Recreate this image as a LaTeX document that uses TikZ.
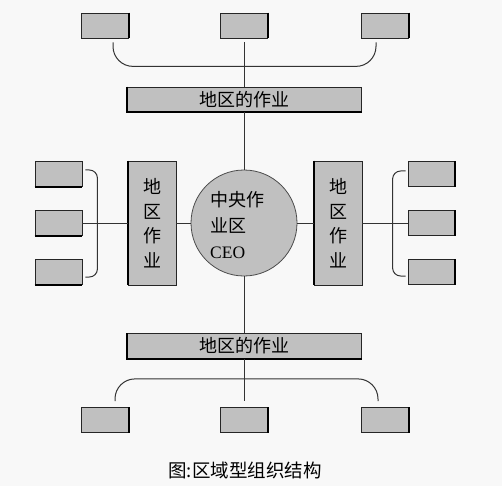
\documentclass[tikz,border=0pt]{standalone}
\usepackage{fontspec}
\setmainfont{Noto Sans CJK SC}
\newfontfamily\ceofont{Liberation Serif}
\usepackage{xcolor}
\usepackage{tikz}
\definecolor{boxgray}{HTML}{C0C0C0}
\definecolor{paper}{HTML}{F8F8F8}

\begin{document}
\begin{tikzpicture}[x=1pt,y=-1pt,
		small/.style={draw=black!85, fill=boxgray, line width=0.8pt, minimum width=47pt, minimum height=25pt, inner sep=0pt},
		region/.style={draw=black!85, fill=boxgray, line width=0.8pt, minimum width=234pt, minimum height=25pt, inner sep=0pt, font=\fontsize{18}{20}\selectfont},
		column/.style={draw=black!85, fill=boxgray, line width=0.8pt, minimum width=48pt, minimum height=124pt, inner sep=0pt, align=center, font=\fontsize{18}{24.5}\selectfont},
		link/.style={draw=black!80, line width=1pt},
		edge/.style={draw=black, line width=2pt}]
		\fill[paper] (0,0) rectangle (502,486);
		\useasboundingbox (0,0) rectangle (502,486);

		\node[small] (t1) at (105,25.5) {};
		\node[small] (t2) at (244,25.5) {};
		\node[small] (t3) at (385,25.5) {};
		\node[region] (tbar) at (244.5,99.5) {地区的作业};

		\node[small] (l1) at (58.5,174) {};
		\node[small] (l2) at (58.5,223) {};
		\node[small] (l3) at (58.5,272) {};
		\node[column] (lbar) at (152,223) {地\\区\\作\\业};

		\node[shape=circle, draw=black!70, fill=boxgray, line width=0.8pt, minimum size=106pt] (ceo) at (244,223) {};
		\node[align=left, anchor=west, inner sep=0pt, font=\fontsize{18}{26}\selectfont] (ceotext) at (210,225) {中央作\\业区\\{\ceofont\fontsize{17.5}{20}\selectfont CEO}};

		\node[column] (rbar) at (338,223) {地\\区\\作\\业};
		\node[small] (r1) at (431.5,174) {};
		\node[small] (r2) at (431.5,223) {};
		\node[small] (r3) at (431.5,272) {};

		\node[region] (bbar) at (244.5,346) {地区的作业};
		\node[small] (b1) at (105,420) {};
		\node[small] (b2) at (244,420) {};
		\node[small] (b3) at (385,420) {};

		\node[font=\fontsize{18.5}{20}\selectfont] (caption) at (245,470) {图:区域型组织结构};

		% darker edges of the boxes
		\foreach \n in {t1,t2,t3,b1,b2,b3,r1,r2,r3}
			\draw[edge] (\n.north east) -- (\n.south east);
		\foreach \n in {l1,l2,l3}
			\draw[edge] (\n.south west) -- (\n.south east);
		\foreach \n in {tbar,bbar}
			\draw[edge] (\n.north west) -- (\n.south west) -- (\n.south east);
		\foreach \n in {lbar,rbar}
			\draw[edge] (\n.north west) -- (\n.south west);

		\draw[link, rounded corners=20pt] ([xshift=8pt,yshift=-4pt]t1.south) |- ([yshift=-28pt]t2.south) -| ([xshift=-9pt,yshift=-4pt]t3.south);
		\draw[link] ([yshift=-4pt]t2.south) -- (tbar.north -| t2.south);
		\draw[link] (tbar.south -| ceo.north) -- (ceo.north);

		\draw[link, rounded corners=8pt] ([xshift=3pt,yshift=4pt]l1.east) -| ([xshift=15pt]l2.east) |- ([xshift=3pt,yshift=-5pt]l3.east);
		\draw[link] (l2.east) -- (lbar.west);
		\draw[link] (lbar.east) -- (ceo.west);
		\draw[link] (ceo.east) -- (rbar.west);
		\draw[link] (rbar.east) -- (r2.west);
		\draw[link, rounded corners=8pt] ([xshift=-2pt,yshift=3pt]r1.west) -| ([xshift=-15pt]r2.west) |- ([xshift=-2pt,yshift=-4pt]r3.west);

		\draw[link] (ceo.south) -- (bbar.north -| ceo.south);
		\draw[link] (bbar.south -| b2.north) -- ([yshift=6pt]b2.north);
		\draw[link, rounded corners=20pt] ([xshift=10pt,yshift=6pt]b1.north) |- ([yshift=-20pt]bbar.south) -| ([xshift=-7pt,yshift=6pt]b3.north);
\end{tikzpicture}
\end{document}
